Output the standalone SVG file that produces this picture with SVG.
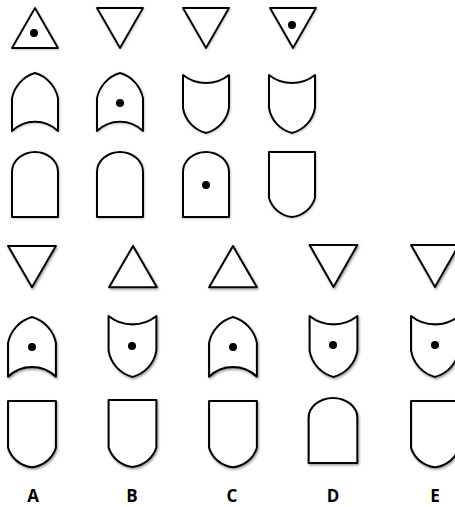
<svg xmlns="http://www.w3.org/2000/svg" xmlns:xlink="http://www.w3.org/1999/xlink" width="455" height="507" viewBox="0 0 455 507">
<style>
.sh{fill:#fff;stroke:#000;stroke-width:2;stroke-linejoin:round}
.dot{fill:#000}
.lbl{font-family:"Open Sans","Liberation Sans",sans-serif;font-weight:bold;font-size:17px;text-anchor:middle;fill:#000}
.top{filter:url(#s1)}
.low{filter:url(#s2)}
</style>
<defs>
<filter id="s1" x="-20%" y="-20%" width="140%" height="140%">
<feDropShadow dx="0.6" dy="0.8" stdDeviation="0.8" flood-color="#777" flood-opacity="0.5"/>
</filter>
<filter id="s2" x="-20%" y="-20%" width="140%" height="140%">
<feDropShadow dx="1" dy="1.5" stdDeviation="1" flood-color="#777" flood-opacity="0.7"/>
</filter>
<path id="tu" class="sh" d="M0,0 L23,40 H-23 Z"/>
<path id="td" class="sh" d="M-23,0 H23 L0,40 Z"/>
<path id="P" class="sh" d="M-23,25 A33,33 0 0 1 0,0 A33,33 0 0 1 23,25 V58 A33,33 0 0 0 -23,58 Z"/>
<path id="S" class="sh" d="M-23,0 A37,37 0 0 0 23,0 V33 A31,31 0 0 1 0,58 A31,31 0 0 1 -23,33 Z"/>
<path id="R" class="sh" d="M-23,20 A23,20 0 0 1 23,20 V65 H-23 Z"/>
<path id="U" class="sh" d="M-23,0 H23 V46 A27,27 0 0 1 0,65 A27,27 0 0 1 -23,46 Z"/>
</defs>
<g id="top-row1" class="top">
<g id="t11"><use xlink:href="#tu" transform="translate(35,8)"/><circle class="dot" cx="34" cy="33" r="4"/></g>
<g id="t12"><use xlink:href="#td" transform="translate(120,8)"/></g>
<g id="t13"><use xlink:href="#td" transform="translate(206,8)"/></g>
<g id="t14"><use xlink:href="#td" transform="translate(293,8)"/><circle class="dot" cx="292" cy="25" r="4"/></g>
</g>
<g id="top-row2" class="top">
<g id="t21"><use xlink:href="#P" transform="translate(35,73)"/></g>
<g id="t22"><use xlink:href="#P" transform="translate(120,73)"/><circle class="dot" cx="120" cy="103" r="4"/></g>
<g id="t23"><use xlink:href="#S" transform="translate(206,75)"/></g>
<g id="t24"><use xlink:href="#S" transform="translate(292,75)"/></g>
</g>
<g id="top-row3" class="top">
<g id="t31"><use xlink:href="#R" transform="translate(35,152)"/></g>
<g id="t32"><use xlink:href="#R" transform="translate(120,152)"/></g>
<g id="t33"><use xlink:href="#R" transform="translate(206,152)"/><circle class="dot" cx="206" cy="185" r="4"/></g>
<g id="t34"><use xlink:href="#U" transform="translate(292,152)"/></g>
</g>
<g id="low-row1" class="low">
<g id="a1"><use xlink:href="#td" transform="translate(32,246) scale(1.04,1.03)"/></g>
<g id="b1"><use xlink:href="#tu" transform="translate(133,246) scale(1.04,1.03)"/></g>
<g id="c1"><use xlink:href="#tu" transform="translate(233,246) scale(1.04,1.03)"/></g>
<g id="d1"><use xlink:href="#td" transform="translate(333.5,245) scale(1.04,1.05)"/></g>
<g id="e1"><use xlink:href="#td" transform="translate(435,245) scale(1.04,1.05)"/></g>
</g>
<g id="low-row2" class="low">
<g id="a2"><use xlink:href="#P" transform="translate(32,317) scale(1.04,1.03)"/><circle class="dot" cx="32" cy="347" r="4"/></g>
<g id="b2"><use xlink:href="#S" transform="translate(132.5,316) scale(1.04,1.05)"/><circle class="dot" cx="132" cy="346" r="4"/></g>
<g id="c2"><use xlink:href="#P" transform="translate(233,317) scale(1.04,1.03)"/><circle class="dot" cx="233" cy="347" r="4"/></g>
<g id="d2"><use xlink:href="#S" transform="translate(333.5,316) scale(1.04,1.05)"/><circle class="dot" cx="333" cy="345" r="4"/></g>
<g id="e2"><use xlink:href="#S" transform="translate(435,316) scale(1.04,1.05)"/><circle class="dot" cx="435" cy="345" r="4"/></g>
</g>
<g id="low-row3" class="low">
<g id="a3"><use xlink:href="#U" transform="translate(32,401) scale(1.04,1.02)"/></g>
<g id="b3"><use xlink:href="#U" transform="translate(132.5,400) scale(1.04,1.03)"/></g>
<g id="c3"><use xlink:href="#U" transform="translate(233,401) scale(1.04,1.02)"/></g>
<g id="d3"><use xlink:href="#R" transform="translate(333,398) scale(1.06,1.0)"/></g>
<g id="e3"><use xlink:href="#U" transform="translate(435,401) scale(1.04,1.02)"/></g>
</g>
<g id="labels">
<text class="lbl" x="33" y="502">A</text>
<text class="lbl" x="132" y="502">B</text>
<text class="lbl" x="232" y="502">C</text>
<text class="lbl" x="333" y="502">D</text>
<text class="lbl" x="435" y="502">E</text>
</g>
</svg>
